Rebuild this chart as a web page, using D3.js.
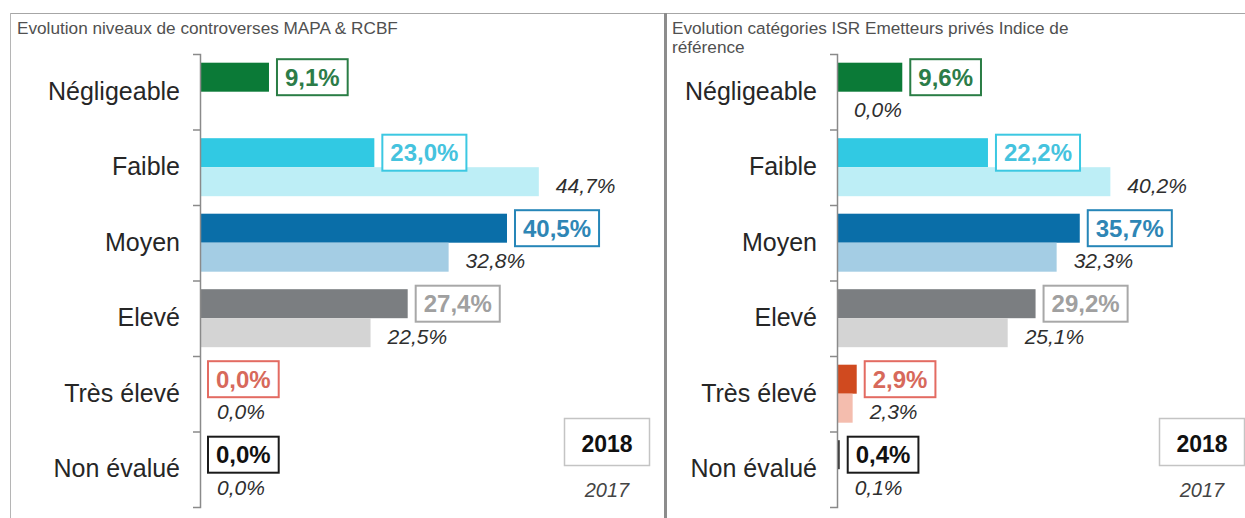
<!DOCTYPE html>
<html><head><meta charset="utf-8">
<script src="https://cdn.jsdelivr.net/npm/d3@7"></script>
<style>
body{margin:0;background:#fff}
svg{display:block;font-family:"Liberation Sans",Arial,Helvetica,sans-serif}
</style>
</head><body>
<svg id="chart" width="1245" height="518"></svg>
<script>
// ---- data ----
const categories = ["Négligeable", "Faible", "Moyen", "Elevé", "Très élevé", "Non évalué"];
const years = ["2018", "2017"];
const leftTitle = ["Evolution niveaux de controverses MAPA & RCBF"];
const rightTitle = ["Evolution catégories ISR Emetteurs privés Indice de", "référence"];
const left2018 = [9.1, 23.0, 40.5, 27.4, 0.0, 0.0];
const left2017 = [null, 44.7, 32.8, 22.5, 0.0, 0.0];
const right2018 = [9.6, 22.2, 35.7, 29.2, 2.9, 0.4];
const right2017 = [0.0, 40.2, 32.3, 25.1, 2.3, 0.1];

// ---- styles ----
const darkColors  = ["#0b7a37", "#31c9e3", "#0a6ea8", "#7b7e81", "#d04a1f", "#2b2b2b"];
const lightColors = ["#a8dcb8", "#bdeef6", "#a4cde4", "#d4d4d4", "#f4bdae", "#8a8a8a"];
const boxStroke   = ["#2a7d45", "#3cc8e2", "#2686b8", "#a8a8a8", "#e36b62", "#1a1a1a"];
const boxText     = ["#2c7c48", "#45c3de", "#2e86b5", "#a0a0a0", "#d7695b", "#111111"];

const fr = d3.formatLocale({decimal: ",", thousands: " ", grouping: [3], currency: ["", " €"]});
const fmt = v => fr.format(".1f")(v) + "%";

const svg = d3.select("#chart");

// frame lines
svg.append("line").attr("x1", 10).attr("x2", 1245).attr("y1", 13.5).attr("y2", 13.5)
  .attr("stroke", "#a6a6a6").attr("stroke-width", 1);
svg.append("line").attr("x1", 10.5).attr("x2", 10.5).attr("y1", 13).attr("y2", 518)
  .attr("stroke", "#b5b5b5").attr("stroke-width", 1);
svg.append("line").attr("x1", 665.5).attr("x2", 665.5).attr("y1", 13).attr("y2", 518)
  .attr("stroke", "#8c8c8c").attr("stroke-width", 3);

const y0 = d3.scaleBand().domain(categories).range([54, 507]);
const y1 = d3.scaleBand().domain(years).range([8.7, 66.7]);
const bw = y1.bandwidth();

const panels = [
  {title: leftTitle, titleX: 17, v18: left2018, v17: left2017, axisX: 200, pxPer: 7.58, legendX: 564},
  {title: rightTitle, titleX: 672, v18: right2018, v17: right2017, axisX: 837, pxPer: 6.8, legendX: 1159}
];

panels.forEach(p => {
  const g = svg.append("g");
  const x = d3.scaleLinear().domain([0, 60]).range([p.axisX, p.axisX + 60 * p.pxPer]);

  // title
  g.selectAll("text.title").data(p.title).join("text")
    .attr("class", "title")
    .attr("x", p.titleX).attr("y", (d, i) => 34 + i * 19)
    .attr("font-size", 17.2).attr("fill", "#505050")
    .text(d => d);

  const rows = categories.map((c, i) => ({c, i, v18: p.v18[i], v17: p.v17[i]}));

  // 2018 bars
  g.selectAll("rect.b18").data(rows).join("rect")
    .attr("class", "b18")
    .attr("x", x(0)).attr("y", d => y0(d.c) + y1("2018"))
    .attr("width", d => x(d.v18) - x(0)).attr("height", bw)
    .attr("fill", d => darkColors[d.i]);

  // 2017 bars
  g.selectAll("rect.b17").data(rows.filter(d => d.v17 !== null)).join("rect")
    .attr("class", "b17")
    .attr("x", x(0)).attr("y", d => y0(d.c) + y1("2017"))
    .attr("width", d => x(d.v17) - x(0)).attr("height", bw)
    .attr("fill", d => lightColors[d.i]);

  // axis
  const ax = g.append("g").attr("transform", `translate(${p.axisX},0)`)
    .call(d3.axisLeft(y0).tickSizeInner(0).tickSizeOuter(7).tickPadding(20));
  ax.select(".domain").attr("stroke", "#8a8a8a").attr("stroke-width", 1.5);
  ax.selectAll(".tick text").attr("font-size", 25).attr("fill", "#262626")
    .attr("font-family", "'Liberation Sans',Arial,sans-serif");
  ax.selectAll("line.bound").data(categories.slice(1)).join("line")
    .attr("class", "bound")
    .attr("x1", -7).attr("x2", 0)
    .attr("y1", d => y0(d) + 0.5).attr("y2", d => y0(d) + 0.5)
    .attr("stroke", "#8a8a8a").attr("stroke-width", 1.5);

  // 2018 value boxes
  const boxes = g.selectAll("g.box").data(rows).join("g")
    .attr("class", "box")
    .attr("transform", d => `translate(${x(d.v18) + 8},${y0(d.c) + y1("2018") + bw / 2})`);
  boxes.append("rect");
  const texts = boxes.append("text")
    .attr("x", 8).attr("y", 8.6)
    .attr("font-size", 24).attr("font-weight", "bold")
    .attr("fill", d => boxText[d.i])
    .text(d => fmt(d.v18));
  texts.each(function(d) {
    const w = this.getComputedTextLength();
    d3.select(this.parentNode).select("rect")
      .attr("x", 0).attr("y", -18).attr("width", w + 16).attr("height", 36)
      .attr("fill", "#fff").attr("stroke", boxStroke[d.i]).attr("stroke-width", 2);
  });

  // 2017 labels
  g.selectAll("text.l17").data(rows.filter(d => d.v17 !== null)).join("text")
    .attr("class", "l17")
    .attr("x", d => x(d.v17) + 17)
    .attr("y", d => y0(d.c) + y1("2017") + bw / 2 + 11)
    .attr("font-size", 21).attr("font-style", "italic").attr("fill", "#2e2e2e")
    .text(d => fmt(d.v17));

  // legend
  g.append("rect").attr("x", p.legendX + 0.5).attr("y", 418.5).attr("width", 85).attr("height", 47)
    .attr("fill", "#fff").attr("stroke", "#c4c4c4").attr("stroke-width", 1.5);
  g.append("text").attr("x", p.legendX + 43).attr("y", 451.5)
    .attr("text-anchor", "middle").attr("font-size", 23).attr("font-weight", "bold")
    .attr("font-family", "'Liberation Sans Narrow','Arial Narrow','Liberation Sans',Arial,sans-serif")
    .attr("fill", "#111").text(years[0]);
  g.append("text").attr("x", p.legendX + 43).attr("y", 497)
    .attr("text-anchor", "middle").attr("font-size", 20).attr("font-style", "italic")
    .attr("font-family", "'Liberation Sans Narrow','Arial Narrow','Liberation Sans',Arial,sans-serif")
    .attr("fill", "#444").text(years[1]);
});
</script>
</body></html>
